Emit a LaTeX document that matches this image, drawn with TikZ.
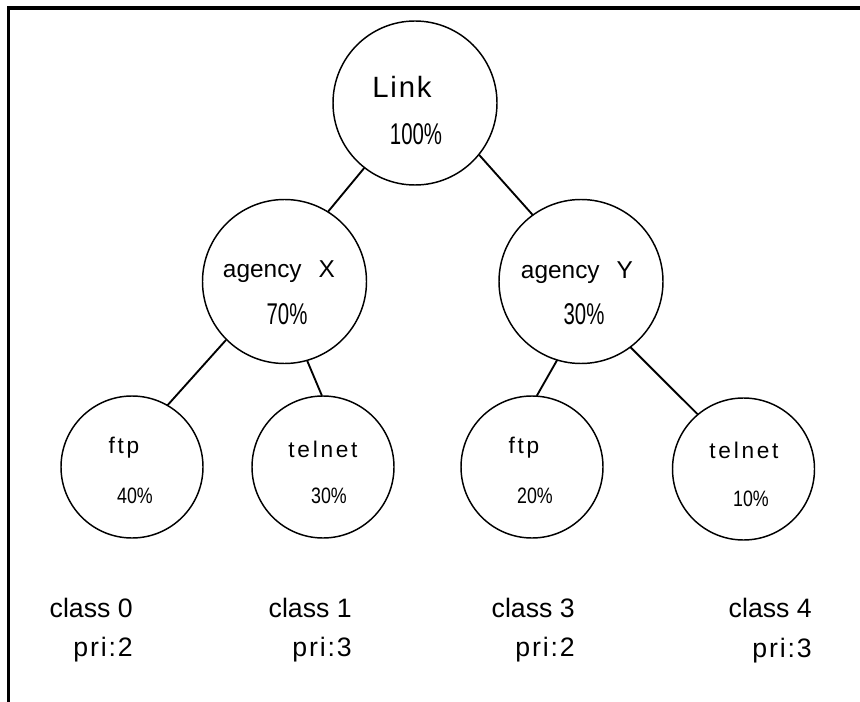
\documentclass[tikz,border=0pt]{standalone}
\usepackage{fontspec}
\setmainfont{Liberation Sans}
\newfontfamily\narrowfont{Liberation Sans}[FakeStretch=0.68]
\newfontfamily\leafpctfont{Liberation Sans}[FakeStretch=0.8]
\usepackage{tikz}

\begin{document}
\begin{tikzpicture}[x=0.75pt,y=-0.75pt,line cap=round,
  bubble/.style={draw,circle,line width=1.1pt,inner sep=0pt,minimum size=123pt},
  leaf/.style={bubble,minimum size=106.5pt},
  edge/.style={line width=1.4pt},
  txt/.style={anchor=base,inner sep=0pt},
  rootname/.style={txt,font={\fontsize{22}{26}\selectfont\addfontfeature{LetterSpace=6}}},
  bigpct/.style={txt,font={\narrowfont\fontsize{22.5}{26}\selectfont}},
  agname/.style={txt,font={\fontsize{18.3}{22}\selectfont}},
  leafname/.style={txt,font={\fontsize{17}{20}\selectfont\addfontfeature{LetterSpace=12}}},
  leafpct/.style={txt,font={\leafpctfont\fontsize{16.7}{20}\selectfont}},
  cls/.style={anchor=base east,inner sep=0pt,font={\fontsize{20}{24}\selectfont}},
  pri/.style={cls,font={\fontsize{20}{24}\selectfont\addfontfeature{LetterSpace=7}}}]
\useasboundingbox (0,0) rectangle (860,702);
\draw[line width=2.3pt,line cap=butt,line join=miter] (8.5,702) -- (8.5,8) -- (860,8);

\node[bubble] (link) at (415,103) {};
\node[bubble] (agx) at (284.5,281.5) {};
\node[bubble] (agy) at (581,281.5) {};
\node[leaf] (ftpx) at (132,467) {};
\node[leaf] (telx) at (323,467) {};
\node[leaf] (ftpy) at (532,467) {};
\node[leaf] (tely) at (743.5,469) {};

\draw[edge] (link.232) -- (agx.58);
\draw[edge] (link.321) -- (agy.126);
\draw[edge] (agx.225) -- (ftpx.60);
\draw[edge] (agx.286) -- (telx.91);
\draw[edge] (agy.253) -- (ftpy.86);
\draw[edge] (agy.307) -- (tely.130);

\node[rootname] (linkname) at (402,98) {Link};
\node[bigpct] (linkpct) at (416,145) {100\%};
\node[agname] (agxname) at (279,277) {agency\hspace*{0.7em}X};
\node[bigpct] (agxpct) at (287,325) {70\%};
\node[agname] (agyname) at (577,278) {agency\hspace*{0.7em}Y};
\node[bigpct] (agypct) at (584,325) {30\%};

\node[leafname] (ftpxname) at (124,453) {ftp};
\node[leafpct] (ftpxpct) at (135,503) {40\%};
\node[leafname] (telxname) at (323,457) {telnet};
\node[leafpct] (telxpct) at (329,503) {30\%};
\node[leafname] (ftpyname) at (524,453) {ftp};
\node[leafpct] (ftpypct) at (535,503) {20\%};
\node[leafname] (telyname) at (744,458) {telnet};
\node[leafpct] (telypct) at (751,506) {10\%};

\node[cls] (cls0) at (133,617) {class 0};
\node[pri] (pri0) at (133,656) {pri:2};
\node[cls] (cls1) at (352,617) {class 1};
\node[pri] (pri1) at (352,656) {pri:3};
\node[cls] (cls3) at (575,617) {class 3};
\node[pri] (pri3) at (575,656) {pri:2};
\node[cls] (cls4) at (812,617) {class 4};
\node[pri] (pri4) at (812,657) {pri:3};
\end{tikzpicture}
\end{document}
